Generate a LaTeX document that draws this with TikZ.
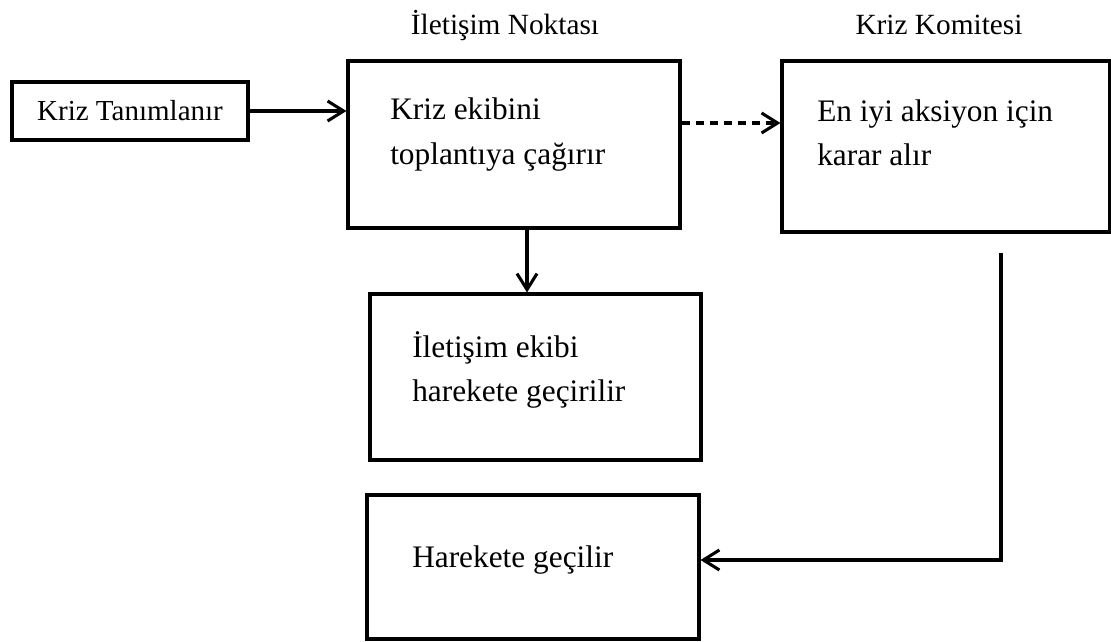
\documentclass[tikz,border=0pt]{standalone}
\usepackage{fontspec}
\setmainfont{Liberation Serif}
\usetikzlibrary{arrows.meta}
\begin{document}
\begin{tikzpicture}[x=0.75pt,y=-0.75pt,
  box/.style 2 args={draw, line width=2.3pt, minimum width=#1, minimum height=#2, inner sep=0pt},
  % multi-line texts are placed by the baseline of their last line
  txt/.style={anchor=base west, align=left, inner sep=0pt, font=\fontsize{23.5}{33}\selectfont},
  lbl/.style={anchor=base, inner sep=0pt, font=\fontsize{22}{26}\selectfont},
  arr/.style={line width=2.3pt, -{Straight Barb[length=12pt,width=15pt,line width=2.3pt]}}
]
\useasboundingbox (0,0) rectangle (1111,642);

% boxes
\node[box={177pt}{43.5pt}, font=\fontsize{21.75}{26}\selectfont] (b1) at (130,111) {Kriz Tanımlanır};
\node[box={249pt}{125.25pt}] (b2) at (514,144.5) {};
\node[box={246pt}{128.25pt}] (b3) at (946,146.5) {};
\node[box={248.25pt}{124.5pt}] (b4) at (535.5,377) {};
\node[box={249pt}{108pt}] (b5) at (533,567) {};

% column headings
\node[lbl] (h2) at (505,35) {İletişim Noktası};
\node[lbl] (h3) at (939,35) {Kriz Komitesi};

% box texts
\node[txt] (t2) at (390,164) {Kriz ekibini\\toplantıya çağırır};
\node[txt] (t3) at (817,166) {En iyi aksiyon için\\karar alır};
\node[txt] (t4) at (412,401) {İletişim ekibi\\harekete geçirilir};
\node[txt] (t5) at (412,567) {Harekete geçilir};

% connectors
\coordinate (dx) at (527,0);
\coordinate (s) at (1001,253);
\draw[arr] (b1.east) -- (b2.west |- b1.east);
\draw[arr, dash pattern=on 6.5pt off 4pt] (b2.east |- 0,123) -- (b3.west |- 0,123);
\draw[arr] (b2.south -| dx) -- (b4.north -| dx);
\draw[arr] (s) |- ([yshift=5.25pt]b5.east);
\end{tikzpicture}
\end{document}
